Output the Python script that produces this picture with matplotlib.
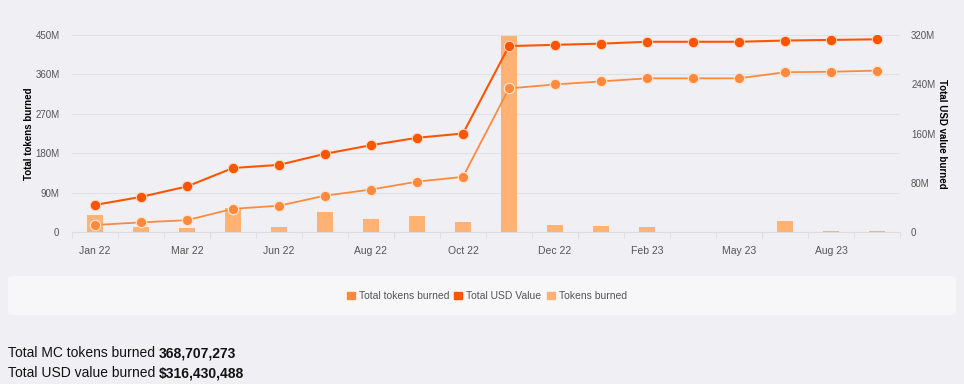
"""Token burn chart: cumulative tokens / USD value with monthly burns."""
import matplotlib
matplotlib.use('Agg')
import matplotlib.pyplot as plt
from matplotlib.patches import FancyBboxPatch, Patch
import numpy as np

months = ['Jan 22', 'Feb 22', 'Mar 22', 'Apr 22', 'Jun 22', 'Jul 22', 'Aug 22',
          'Sep 22', 'Oct 22', 'Nov 22', 'Dec 22', 'Jan 23', 'Feb 23', 'Mar 23',
          'May 23', 'Jul 23', 'Aug 23', 'Sep 23']
# cumulative tokens burned (left axis, millions)
total_tokens = [16, 22, 27, 53, 60, 83, 97, 115, 126, 328, 337, 344, 351, 351,
                351, 365, 366, 368.7]
# cumulative USD value burned (right axis, millions)
total_usd = [44, 57, 74, 104, 109, 127, 141, 153, 160, 302, 304, 306, 309, 309,
             309, 311, 312, 313]
# tokens burned per period (left axis, millions)
tokens_burned = [39, 11, 10, 54, 12, 46, 30, 36, 23, 448, 15, 13, 12, 0.5,
                 0.3, 25, 1.5, 1.2]

C_DARK = '#ff5500'
C_LINE = '#ff8a3d'
C_BAR = '#ffb274'
BG = '#f0f0f4'

plt.rcParams['font.family'] = ['Liberation Sans', 'DejaVu Sans']

fig = plt.figure(figsize=(9.64, 3.84), dpi=100, facecolor=BG)
ax = fig.add_axes([72/964, 1 - 232/384, 828/964, 197/384])
ax.set_facecolor(BG)
x = np.arange(len(months))

ax.bar(x, tokens_burned, width=0.34, color=C_BAR, zorder=2)
ax.plot(x, total_tokens, color=C_LINE, lw=1.3, marker='o', ms=7.5,
        mfc=C_LINE, mec='#ffe3cf', mew=0.9, zorder=4)

ax2 = ax.twinx()
ax2.plot(x, total_usd, color=C_DARK, lw=1.5, marker='o', ms=7.5,
         mfc=C_DARK, mec='#ffd9c4', mew=0.7, zorder=5)

ax.set_xlim(-0.5, len(months) - 0.5)
ax.set_ylim(0, 450)
ax2.set_ylim(0, 320)
ax.set_yticks(np.arange(0, 451, 90))
ax.set_yticklabels(['0'] + [f'{v}M' for v in range(90, 451, 90)])
ax2.set_yticks(np.arange(0, 321, 80))
ax2.set_yticklabels(['0'] + [f'{v}M' for v in range(80, 321, 80)])

ax.set_xticks(x[::2])
ax.set_xticklabels(months[::2])
ax.set_xticks(np.arange(-0.5, len(months), 1), minor=True)
ax.tick_params(axis='x', which='major', length=0, pad=10, labelsize=7.5,
               labelcolor='#555555')
ax.tick_params(axis='x', which='minor', length=4, color='#dcdce2')
ax.tick_params(axis='y', length=0, pad=9, labelsize=7, labelcolor='#555555')
ax2.tick_params(axis='y', length=0, pad=8, labelsize=7, labelcolor='#555555')

ax.grid(axis='y', color='#e0e0e7', lw=0.8, zorder=0)
ax.set_axisbelow(True)
for a in (ax, ax2):
    for s in a.spines.values():
        s.set_visible(False)
ax.spines['bottom'].set_visible(True)
ax.spines['bottom'].set_color('#dcdce2')

ax.set_ylabel('Total tokens burned', fontsize=7, fontweight='bold')
ax2.set_ylabel('Total USD value burned', fontsize=7, fontweight='bold',
               rotation=270, va='bottom')
ax.yaxis.set_label_coords(-0.046, 0.5)
ax2.yaxis.set_label_coords(1.045, 0.5)

# legend panel
panel = FancyBboxPatch((8/964, 1 - 315/384), 948/964, 39/384,
                       boxstyle='round,pad=0,rounding_size=0.006',
                       transform=fig.transFigure, facecolor='#f7f7f9',
                       edgecolor='none')
fig.patches.append(panel)
handles = [Patch(color=C_LINE, label='Total tokens burned'),
           Patch(color=C_DARK, label='Total USD Value'),
           Patch(color=C_BAR, label='Tokens burned')]
fig.legend(handles=handles, loc='center', bbox_to_anchor=(0.505, 1 - 296/384),
           ncol=3, frameon=False, fontsize=7.5, handlelength=0.75,
           handleheight=0.75, handletextpad=0.4, columnspacing=0.5,
           labelcolor='#555555')

# summary text
fs = 10
t1 = fig.text(8/964, 1 - 353/384, 'Total MC tokens burned ', fontsize=fs,
              va='center', color='#111111')
t2 = fig.text(8/964, 1 - 373/384, 'Total USD value burned ', fontsize=fs,
              va='center', color='#111111')
fig.canvas.draw()
r = fig.canvas.get_renderer()
for t, val in ((t1, '368,707,273'), (t2, '$316,430,488')):
    bb = t.get_window_extent(r)
    fig.text(bb.x1 / fig.bbox.width, t.get_position()[1], val, fontsize=fs,
             fontweight='bold', va='center', color='#111111')

fig.savefig('out.png', dpi=100, facecolor=BG)
